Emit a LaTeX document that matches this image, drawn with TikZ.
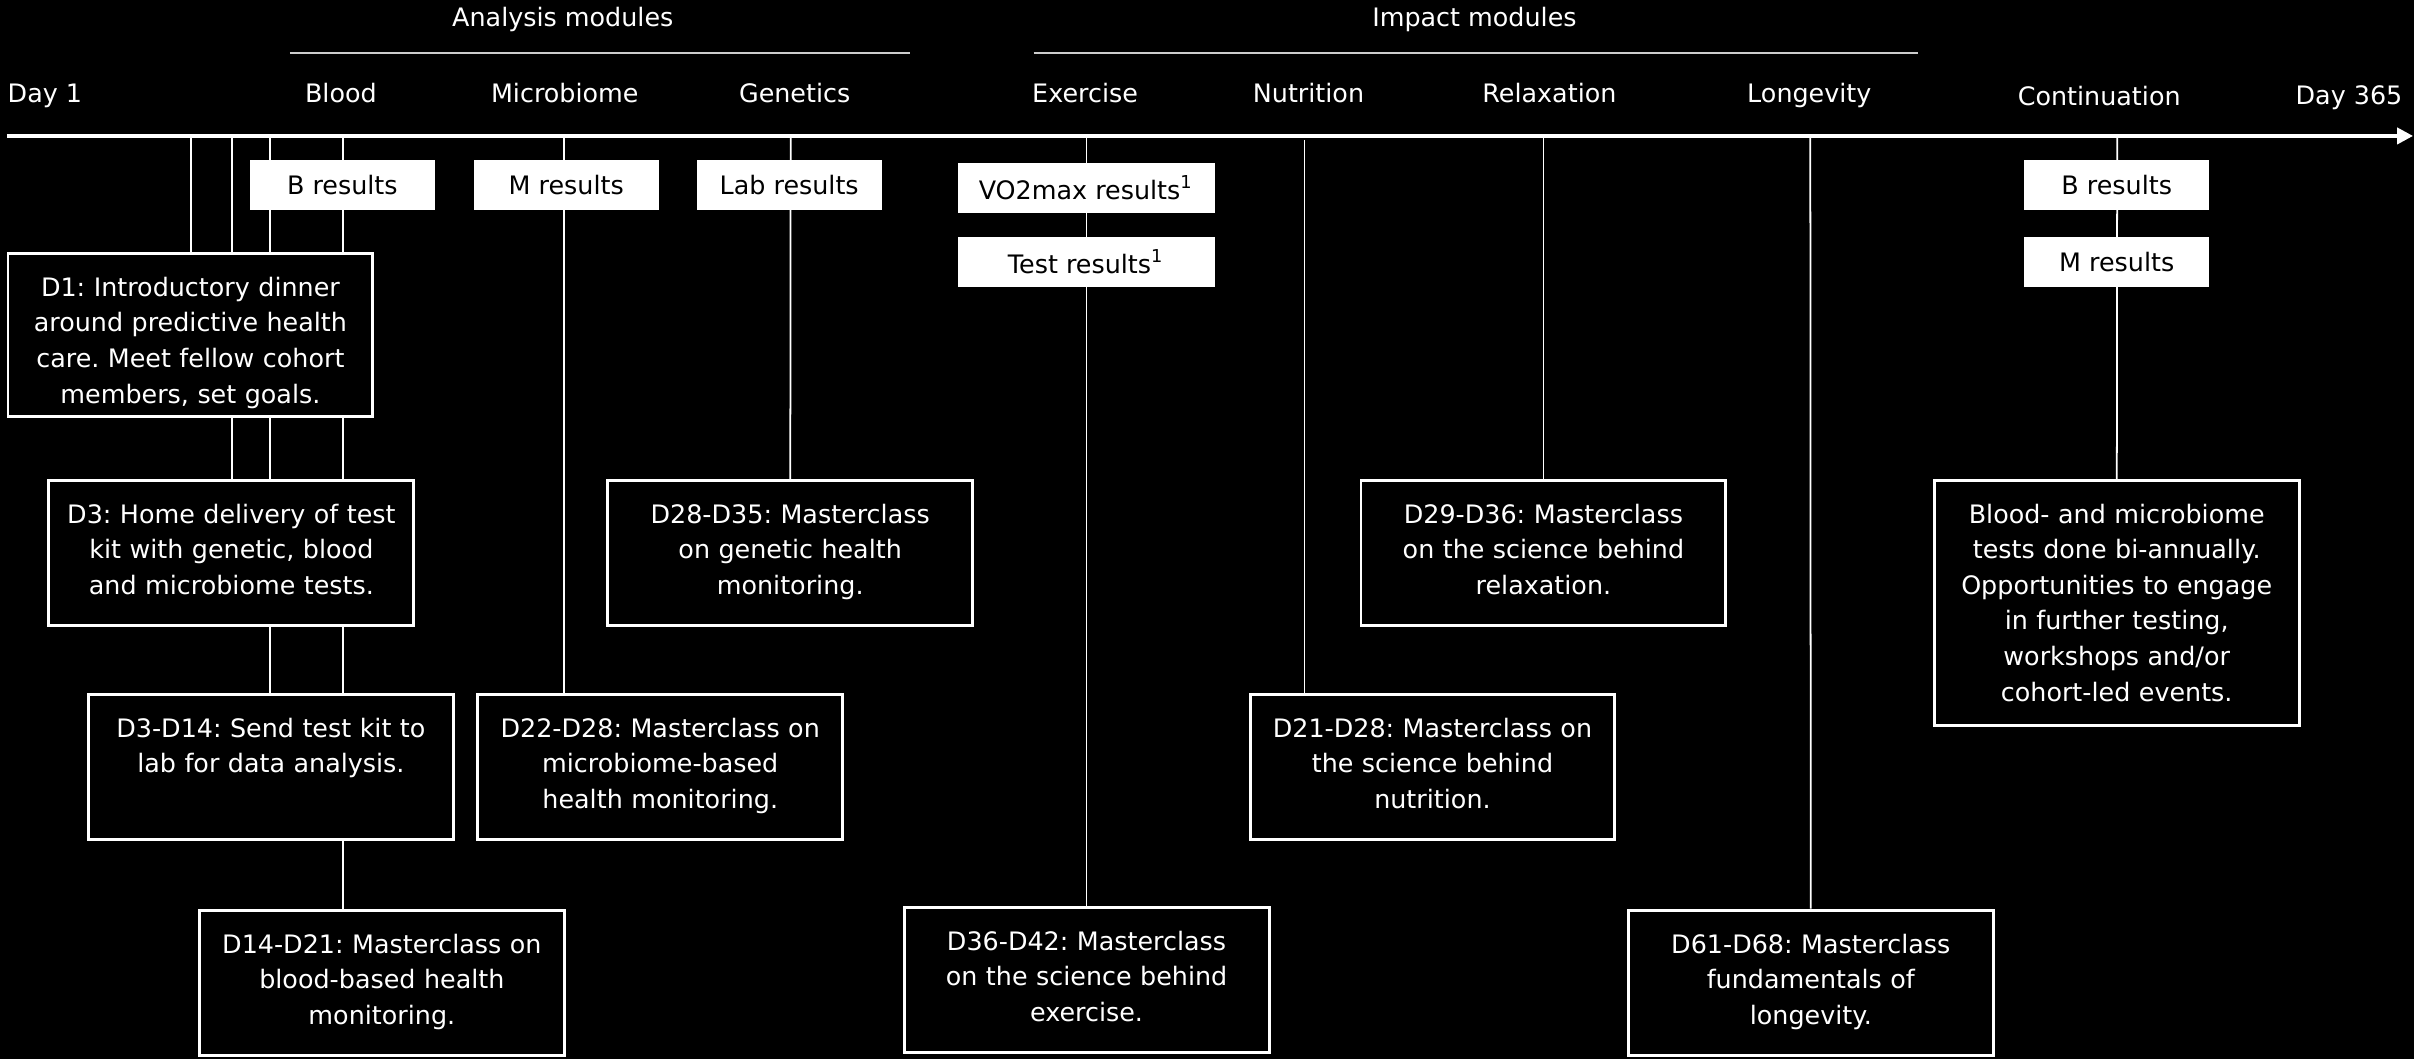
\documentclass[tikz,border=0pt]{standalone}
\usepackage{fontspec}
\setmainfont{DejaVu Sans}
\frenchspacing
\usetikzlibrary{arrows.meta}
\pgfdeclarelayer{bg}
\pgfdeclarelayer{links}
\pgfsetlayers{bg,links,main}
\tikzstyle{phase} = [draw=white, line width=.85pt, fill=black, text=white, anchor=north, text width=3.45cm, align=center, inner xsep=.1cm, inner ysep=.1cm, text height=.33cm, text depth=.92cm, font=\fontsize{7.23}{10.12}\selectfont]
\tikzstyle{result} = [fill=white, text=black, minimum width=1.85cm, minimum height=.5cm, inner sep=0pt, font=\fontsize{7.23}{10.12}\selectfont]
\tikzstyle{modname} = [text=white, anchor=base, inner sep=0pt, font=\fontsize{7.23}{10.12}\selectfont]
\tikzstyle{link} = [draw=white, line width=.5pt]
\tikzstyle{timeline} = [draw=white, line width=1.1pt, -{Triangle[length=.16cm,width=.16cm]}]

\begin{document}
\begin{tikzpicture}
    \begin{pgfonlayer}{bg}
        \fill[black] (0,0) rectangle (24.15,-10.59);
    \end{pgfonlayer}
    % group headers
    \draw (5.63,-.27) node[modname] (analysis) {Analysis modules};
    \draw (14.75,-.27) node[modname] (impact) {Impact modules};
    \draw[white!80!black, line width=.6pt] (2.90,-.53) -- (9.10,-.53);
    \draw[white!80!black, line width=.6pt] (10.34,-.53) -- (19.19,-.53);
    % timeline
    \coordinate (start) at (.07,-1.36);
    \coordinate (end) at (24.14,-1.36);
    \draw[timeline] (start) -- (end);
    \draw (.07,-1.03) node[modname, anchor=base west] (day1) {Day 1};
    \draw (3.41,-1.03) node[modname] (blood) {Blood};
    \draw (5.65,-1.03) node[modname] (microbiome) {Microbiome};
    \draw (7.95,-1.03) node[modname] (genetics) {Genetics};
    \draw (10.855,-1.03) node[modname] (exercise) {Exercise};
    \draw (13.09,-1.03) node[modname] (nutrition) {Nutrition};
    \draw (15.50,-1.03) node[modname] (relaxation) {Relaxation};
    \draw (18.10,-1.03) node[modname] (longevity) {Longevity};
    \draw (21.00,-1.06) node[modname] (continuation) {Continuation};
    \draw (24.04,-1.05) node[modname, anchor=base east] (day365) {Day 365};
    % result boxes
    \draw (3.425,-1.855) node[result] (bres) {B results};
    \draw (5.665,-1.855) node[result] (mres) {M results};
    \draw (7.895,-1.855) node[result] (lres) {Lab results};
    \draw (10.865,-1.88) node[result, minimum width=2.57cm] (vres) {VO2max results\textsuperscript{1}};
    \draw (10.865,-2.62) node[result, minimum width=2.57cm] (tres) {Test results\textsuperscript{1}};
    \draw (21.175,-1.85) node[result] (cbres) {B results};
    \draw (21.175,-2.62) node[result] (cmres) {M results};
    % phases
    \draw (1.905,-2.52) node[phase, text depth=1.1cm] (d1) {D1: Introductory dinner\\around predictive health\\care. Meet fellow cohort\\members, set goals.};
    \draw (2.315,-4.79) node[phase] (d3) {D3: Home delivery of test\\kit with genetic, blood\\and microbiome tests.};
    \draw (2.71,-6.93) node[phase] (d3to14) {D3-D14: Send test kit to\\lab for data analysis.};
    \draw (3.82,-9.09) node[phase] (d14to21) {D14-D21: Masterclass on\\blood-based health\\monitoring.};
    \draw (6.605,-6.93) node[phase] (d22to28) {D22-D28: Masterclass on\\microbiome-based\\health monitoring.};
    \draw (7.905,-4.79) node[phase] (d28to35) {D28-D35: Masterclass\\on genetic health\\monitoring.};
    \draw (10.87,-9.06) node[phase] (d36to42) {D36-D42: Masterclass\\on the science behind\\exercise.};
    \draw (14.33,-6.93) node[phase] (d21to28) {D21-D28: Masterclass on\\the science behind\\nutrition.};
    \draw (15.44,-4.79) node[phase] (d29to36) {D29-D36: Masterclass\\on the science behind\\relaxation.};
    \draw (18.115,-9.09) node[phase] (d61to68) {D61-D68: Masterclass\\fundamentals of\\longevity.};
    \draw (21.175,-4.79) node[phase, text depth=1.92cm] (cont) {Blood- and microbiome\\tests done bi-annually.\\Opportunities to engage\\in further testing,\\workshops and/or\\cohort-led events.};
    % links from the timeline
    \coordinate (b1) at (1.91,-1.36);
    \coordinate (b2) at (2.32,-1.36);
    \coordinate (b3) at (2.70,-1.36);
    \coordinate (b4) at (3.43,-1.36);
    \coordinate (mic) at (5.64,-1.36);
    \coordinate (gen) at (7.91,-1.36);
    \coordinate (exe) at (10.87,-1.36);
    \coordinate (nut) at (13.05,-1.40);
    \coordinate (rel) at (15.44,-1.36);
    \coordinate (lon) at (18.11,-1.36);
    \coordinate (con) at (21.18,-1.36);
    \begin{pgfonlayer}{links}
        \draw[link] (b1) -- (b1 |- d1.north);
        \draw[link] (b2) -- (b2 |- d3.north);
        \draw[link] (b3) -- (b3 |- d3to14.north);
        \draw[link] (b4) -- (b4 |- d14to21.north);
        \draw[link] (mic) -- (mic |- d22to28.north);
        \draw[link] (gen) -- (d28to35);
        \draw[link] (exe) -- (d36to42);
        \draw[link] (nut) -- (nut |- d21to28.north);
        \draw[link] (rel) -- (d29to36);
        \draw[link] (lon) -- (d61to68);
        \draw[link] (con) -- (cont);
    \end{pgfonlayer}
\end{tikzpicture}
\end{document}
